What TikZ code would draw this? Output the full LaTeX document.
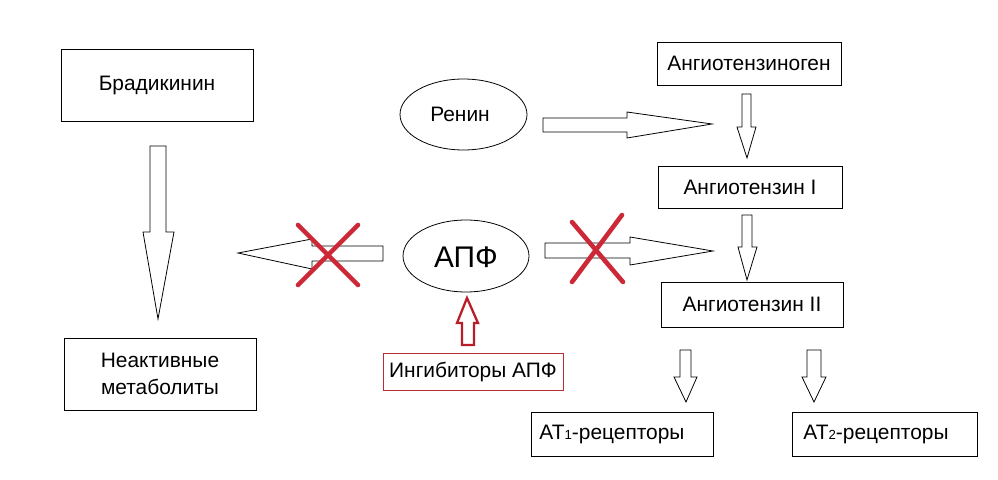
\documentclass[tikz,border=0pt]{standalone}
\usepackage{fontspec}
\setmainfont{Liberation Sans}
\usetikzlibrary{shapes.geometric}
\definecolor{xred}{RGB}{205,40,55}
\definecolor{boxred}{RGB}{185,45,55}
\definecolor{arrred}{RGB}{185,30,40}
\tikzset{
  box/.style={draw=black, line width=0.5pt, inner sep=0pt, outer sep=0pt, font=\fontsize{11.9}{15.5}\selectfont, align=center},
  oval/.style={draw=black, line width=0.45pt, ellipse, inner sep=0pt, outer sep=0pt},
  blockarrow/.style={draw=black, line width=0.45pt, fill=white, line join=miter},
  redarrow/.style={draw=arrred, line width=1.3pt, fill=white, line join=miter},
  crossline/.style={draw=xred, line width=2.6pt, line cap=round},
  lbl/.style={inner sep=0pt, font=\fontsize{11.9}{14}\selectfont}
}
\begin{document}
\begin{tikzpicture}[x=0.02cm, y=-0.02cm]
\useasboundingbox (0,0) rectangle (998,480);
\fill[white] (0,0) rectangle (998,480);

% boxes
\node[box, minimum width=3.84cm, minimum height=1.44cm] (brad) at (157,85) {Брадикинин};
\node[box, minimum width=3.84cm, minimum height=1.44cm] (neakt) at (160,374) {Неактивные\\метаболиты};
\node[box, minimum width=3.68cm, minimum height=0.86cm] (agen) at (749,63.5) {Ангиотензиноген};
\node[box, minimum width=3.68cm, minimum height=0.84cm] (ang1) at (750,187) {Ангиотензин I};
\node[box, minimum width=3.64cm, minimum height=0.90cm] (ang2) at (752,304.5) {Ангиотензин II};
\node[box, draw=boxred, minimum width=3.60cm, minimum height=0.74cm] (inhib) at (473,371.5) {Ингибиторы АПФ};
\node[box, minimum width=3.64cm, minimum height=0.88cm] (at1) at (622,434) {};
\node[box, minimum width=3.70cm, minimum height=0.88cm] (at2) at (884.5,434) {};
\node[lbl] (at1t) at (612,434) {AT{\fontsize{7.5}{8}\selectfont 1}-рецепторы};
\node[lbl] (at2t) at (876,434) {AT{\fontsize{7.5}{8}\selectfont 2}-рецепторы};

% ellipses
\node[oval, minimum width=2.54cm, minimum height=1.42cm] (renin) at (463.5,114.5) {};
\node[lbl] (renint) at (460,114) {Ренин};
\node[oval, minimum width=2.52cm, minimum height=1.44cm] (apf) at (466,256) {};
\node[inner sep=0pt, font=\fontsize{17}{20}\selectfont] (apft) at (466,257) {АПФ};

% block arrows
\draw[blockarrow] (150,146) -- (166,146) -- (166,232) -- (174,232) -- (158,319) -- (143,232) -- (150,232) -- cycle;
\draw[blockarrow] (383,246) -- (312,246) -- (312,239) -- (238,253) -- (312,269) -- (312,261) -- (383,261) -- cycle;
\draw[blockarrow] (545,243) -- (630,243) -- (630,237) -- (713,251) -- (630,265) -- (630,258) -- (545,258) -- cycle;
\draw[blockarrow] (543,118) -- (627,118) -- (627,112) -- (712,124) -- (627,138) -- (627,132) -- (543,132) -- cycle;
\draw[blockarrow] (742,94) -- (751,94) -- (751,127) -- (756,127) -- (747,158) -- (737,127) -- (742,127) -- cycle;
\draw[blockarrow] (742,215) -- (752,215) -- (752,247) -- (757,247) -- (747,280) -- (738,247) -- (742,247) -- cycle;
\draw[blockarrow] (680,350) -- (691,350) -- (691,377) -- (697,377) -- (686,402) -- (674,377) -- (680,377) -- cycle;
\draw[blockarrow] (807,350) -- (821,350) -- (821,377) -- (826,377) -- (814,402) -- (802,377) -- (807,377) -- cycle;
\draw[redarrow] (462,345) -- (474,345) -- (474,323) -- (478,323) -- (467,298) -- (457,323) -- (462,323) -- cycle;

% red crosses
\draw[crossline] (298,225) -- (358,285);
\draw[crossline] (358,225) -- (298,285);
\draw[crossline] (572,222) -- (623,282);
\draw[crossline] (622,215) -- (572,282);
\end{tikzpicture}
\end{document}
